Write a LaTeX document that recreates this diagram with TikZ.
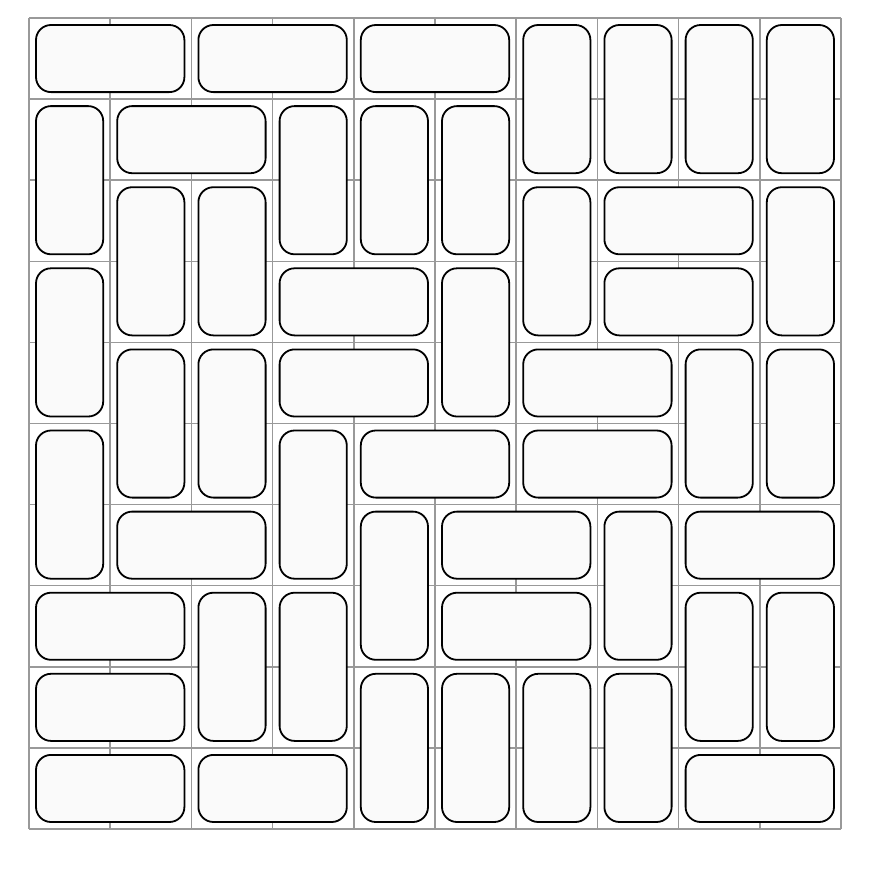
\documentclass[tikz,border=0pt]{standalone}
\begin{document}
\begin{tikzpicture}[x=1pt,y=-1pt,
 gridline/.style={draw=black!40, line width=1.5pt},
 domino/.style={draw=black, line width=1.8pt, fill=black!2, rounded corners=15pt}]
\useasboundingbox (0,0) rectangle (876,868);
\fill[white] (0,0) rectangle (876,868);
\foreach \i in {0,...,10} {
  \draw[gridline] ({29+\i*81.2},18) -- ({29+\i*81.2},829);
  \draw[gridline] (29,{18+\i*81.1}) -- (841,{18+\i*81.1});
}
\foreach \c/\r/\w/\h in {
 0/0/2/1, 2/0/2/1, 4/0/2/1, 6/0/1/2, 7/0/1/2, 8/0/1/2, 9/0/1/2,
 0/1/1/2, 1/1/2/1, 3/1/1/2, 4/1/1/2, 5/1/1/2,
 1/2/1/2, 2/2/1/2, 6/2/1/2, 7/2/2/1, 9/2/1/2,
 0/3/1/2, 3/3/2/1, 5/3/1/2, 7/3/2/1,
 1/4/1/2, 2/4/1/2, 3/4/2/1, 6/4/2/1, 8/4/1/2, 9/4/1/2,
 0/5/1/2, 3/5/1/2, 4/5/2/1, 6/5/2/1,
 1/6/2/1, 4/6/1/2, 5/6/2/1, 7/6/1/2, 8/6/2/1,
 0/7/2/1, 2/7/1/2, 3/7/1/2, 5/7/2/1, 8/7/1/2, 9/7/1/2,
 0/8/2/1, 4/8/1/2, 5/8/1/2, 6/8/1/2, 7/8/1/2,
 0/9/2/1, 2/9/2/1, 8/9/2/1} {
  \draw[domino] ({29+\c*81.2+7},{18+\r*81.1+7}) rectangle ({29+(\c+\w)*81.2-7},{18+(\r+\h)*81.1-7});
}
\end{tikzpicture}
\end{document}
